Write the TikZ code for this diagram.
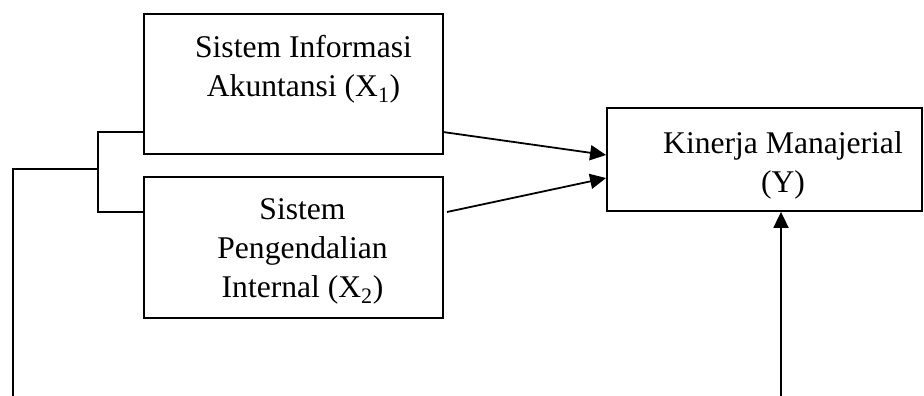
\documentclass[tikz,border=0pt]{standalone}
\usepackage{fontspec}
\setmainfont{Liberation Serif}
\usetikzlibrary{arrows.meta}
\begin{document}
\begin{tikzpicture}[x=1pt,y=-1pt,
  boxstyle/.style={draw,line width=1.8pt,inner sep=0pt,rectangle},
  txt/.style={align=center,inner sep=0pt,font=\fontsize{31.6}{39}\selectfont},
  conn/.style={line width=1.8pt},
  arr/.style={line width=1.8pt,-{Triangle[length=16pt,width=15pt]}}]
\useasboundingbox (0,0) rectangle (924,396);
% boxes
\node[boxstyle,minimum width=299pt,minimum height=140pt] (b1) at (293.5,84) {};
\node[boxstyle,minimum width=299pt,minimum height=141pt] (b2) at (293.5,247.5) {};
\node[boxstyle,minimum width=315pt,minimum height=103pt] (y) at (764.5,159.5) {};
% texts
\node[txt] (t1) at (303.5,69) {Sistem Informasi\\Akuntansi (X\textsubscript{1})};
\node[txt] (t2) at (302.5,251) {Sistem\\Pengendalian\\Internal (X\textsubscript{2})};
\node[txt] (ty) at (783,165) {Kinerja Manajerial\\(Y)};
% connectors
\coordinate (j1) at (98,132);
\coordinate (j2) at (98,212);
\coordinate (j3) at (98,169);
\coordinate (l1) at (13,169);
\coordinate (l2) at (13,396);
\coordinate (yb) at (781,396);
\coordinate (a1s) at (443,132);
\coordinate (a2s) at (447,212);
\draw[conn] (b1.west |- j1) -- (j1) -- (j2) -- (b2.west |- j2);
\draw[conn] (l2) -- (l1) -- (j3);
\draw[arr] (a1s) -- (y.west |- 0,155);
\draw[arr] (a2s) -- (y.west |- 0,178);
\draw[arr] (yb) -- (y.south -| yb);
\end{tikzpicture}
\end{document}
